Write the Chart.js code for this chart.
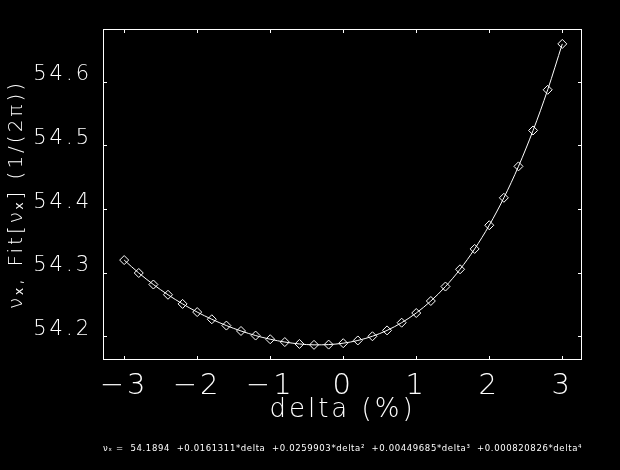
<!DOCTYPE html>
<html>
<head>
<meta charset="utf-8">
<title>Tune versus momentum deviation</title>
<script src="https://cdn.jsdelivr.net/npm/chart.js@4.4.1/dist/chart.umd.min.js"></script>
<style>
  html, body { margin: 0; padding: 0; background: #000; }
  #chart { display: block; }
</style>
</head>
<body>
<canvas id="chart" width="620" height="470"></canvas>
<script>
// momentum deviation delta (%) and the measured tune (1/(2 pi))
const deltaValues = [
  -3.0, -2.8, -2.6, -2.4, -2.2, -2.0, -1.8, -1.6, -1.4, -1.2, -1.0,
  -0.8, -0.6, -0.4, -0.2, 0.0, 0.2, 0.4, 0.6, 0.8, 1.0,
  1.2, 1.4, 1.6, 1.8, 2.0, 2.2, 2.4, 2.6, 2.8, 3.0
];
const tuneValues = [
  54.3200, 54.2997, 54.2816, 54.2655, 54.2511, 54.2383, 54.2270, 54.2171, 54.2086, 54.2014, 54.1956,
  54.1912, 54.1882, 54.1868, 54.1872, 54.1894, 54.1937, 54.2003, 54.2095, 54.2216, 54.2368,
  54.2557, 54.2784, 54.3055, 54.3375, 54.3747, 54.4178, 54.4672, 54.5236, 54.5875, 54.6596
];
const xTicks = [-3, -2, -1, 0, 1, 2, 3];
const yTicks = [54.2, 54.3, 54.4, 54.5, 54.6];
const fitLabel = 'νₓ =  54.1894  +0.0161311*delta  +0.0259903*delta²  +0.00449685*delta³  +0.000820826*delta⁴';

const FONT = "'DejaVu Sans', 'Liberation Sans', sans-serif";
const LETTER_SPACING = '3px';
const TICK_MARK = 4;

/**
 * Plain black page and the wide letter spacing of the plot fonts.
 * The context is reset whenever the canvas is resized, so set it again each pass.
 */
const backdropPlugin = {
  id: 'backdrop',
  beforeLayout (chart) {
    chart.ctx.letterSpacing = LETTER_SPACING;
  },
  beforeDraw (chart) {
    const { ctx, width, height } = chart;
    ctx.letterSpacing = LETTER_SPACING;
    ctx.save();
    ctx.fillStyle = '#000';
    ctx.fillRect(0, 0, width, height);
    ctx.restore();
  }
};

/**
 * Closed box round the plot with tick marks pointing inward on all four sides.
 */
const framePlugin = {
  id: 'frame',
  afterDatasetsDraw (chart) {
    const { ctx, chartArea: a, scales } = chart;
    ctx.save();
    ctx.strokeStyle = '#fff';
    ctx.lineWidth = 1;
    ctx.strokeRect(Math.round(a.left) + 0.5, Math.round(a.top) + 0.5,
      Math.round(a.width) - 1, Math.round(a.height) - 1);

    ctx.beginPath();
    scales.x.ticks.forEach(t => {
      const px = Math.round(scales.x.getPixelForValue(t.value)) + 0.5;
      ctx.moveTo(px, a.bottom); ctx.lineTo(px, a.bottom - TICK_MARK);
      ctx.moveTo(px, a.top); ctx.lineTo(px, a.top + TICK_MARK);
    });
    scales.y.ticks.forEach(t => {
      const py = Math.round(scales.y.getPixelForValue(t.value)) + 0.5;
      ctx.moveTo(a.left, py); ctx.lineTo(a.left + TICK_MARK, py);
      ctx.moveTo(a.right, py); ctx.lineTo(a.right - TICK_MARK, py);
    });
    ctx.stroke();
    ctx.restore();
  }
};

/**
 * Small fit formula under the plot, stretched to the width of the box.
 */
const fitLabelPlugin = {
  id: 'fitLabel',
  afterDraw (chart) {
    const { ctx, chartArea: a } = chart;
    ctx.save();
    ctx.font = `8.5px ${FONT}`;
    ctx.letterSpacing = '0px';
    const chars = [...fitLabel].length;
    const spacing = (a.right - a.left - ctx.measureText(fitLabel).width) / chars;
    ctx.letterSpacing = `${spacing}px`;
    ctx.fillStyle = '#fff';
    ctx.textAlign = 'left';
    ctx.textBaseline = 'middle';
    ctx.fillText(fitLabel, a.left, 449);
    ctx.restore();
  }
};

const lightFont = size => ({ family: FONT, size, weight: 200 });

new Chart(document.getElementById('chart').getContext('2d'), {
  type: 'line',
  data: {
    datasets: [{
      data: deltaValues.map((x, i) => ({ x, y: tuneValues[i] })),
      borderColor: '#fff',
      borderWidth: 1,
      cubicInterpolationMode: 'monotone',
      fill: false,
      pointStyle: 'rectRot',
      pointRadius: 4.5,
      pointBorderWidth: 1,
      pointBorderColor: '#fff',
      pointBackgroundColor: 'rgba(0,0,0,0)'
    }]
  },
  options: {
    responsive: false,
    animation: false,
    devicePixelRatio: 1,
    layout: { padding: { top: 29, right: 38, left: 0, bottom: 0 } },
    plugins: {
      legend: { display: false },
      tooltip: { enabled: false }
    },
    scales: {
      x: {
        type: 'linear',
        min: -3.29,
        max: 3.27,
        grid: { display: false },
        border: { display: false },
        afterBuildTicks: scale => { scale.ticks = xTicks.map(value => ({ value })); },
        afterFit: scale => { scale.height = 110; },
        ticks: {
          color: '#fff',
          font: lightFont(29),
          padding: 1,
          maxRotation: 0,
          autoSkip: false,
          callback: v => (v < 0 ? '\u2212' : '') + Math.abs(v)
        },
        title: {
          display: true,
          text: 'delta (%)',
          color: '#fff',
          font: lightFont(26),
          padding: { top: 0, bottom: 44 }
        }
      },
      y: {
        type: 'linear',
        min: 54.163,
        max: 54.683,
        grid: { display: false },
        border: { display: false },
        afterBuildTicks: scale => { scale.ticks = yTicks.map(value => ({ value })); },
        afterFit: scale => { scale.width = 103; },
        ticks: {
          color: '#fff',
          font: lightFont(21),
          padding: 3,
          labelOffset: -7,
          autoSkip: false,
          callback: v => v.toFixed(1)
        },
        title: {
          display: true,
          text: 'νₓ, Fit[νₓ] (1/(2π))',
          color: '#fff',
          font: lightFont(20),
          padding: { top: 5, bottom: 0 }
        }
      }
    }
  },
  plugins: [backdropPlugin, framePlugin, fitLabelPlugin]
});
</script>
</body>
</html>
